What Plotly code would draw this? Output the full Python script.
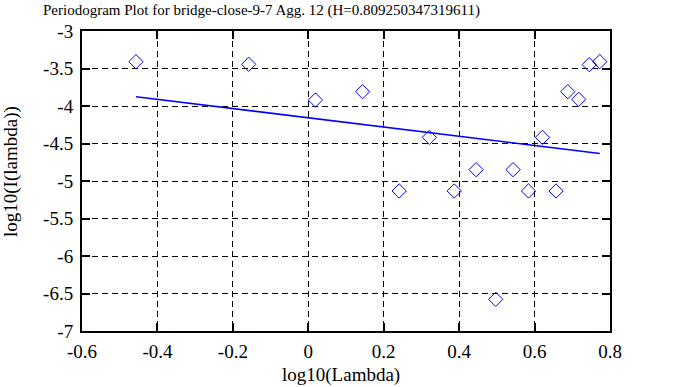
import plotly.graph_objects as go

# Periodogram points (log10 frequency, log10 power)
log_lambda = [-0.457, -0.158, 0.019, 0.144, 0.241, 0.321, 0.387, 0.445, 0.497,
              0.543, 0.584, 0.621, 0.657, 0.688, 0.717, 0.745, 0.773]
log_I = [-3.409, -3.444, -3.920, -3.809, -5.133, -4.418, -5.133, -4.849, -6.578,
         -4.849, -5.133, -4.418, -5.133, -3.809, -3.911, -3.449, -3.409]

# Fitted regression line endpoints
fit_x = [-0.457, 0.773]
fit_y = [-3.876, -4.634]

x_ticks = [-0.6, -0.4, -0.2, 0, 0.2, 0.4, 0.6, 0.8]
x_tick_text = ["-0.6", "-0.4", "-0.2", "0", "0.2", "0.4", "0.6", "0.8"]
y_ticks = [-7, -6.5, -6, -5.5, -5, -4.5, -4, -3.5, -3]
y_tick_text = ["-7", "-6.5", "-6", "-5.5", "-5", "-4.5", "-4", "-3.5", "-3"]

title_text = "Periodogram Plot for bridge-close-9-7 Agg. 12 (H=0.809250347319611)"
x_title = "log10(Lambda)"
y_title = "log10(I(lambda))"

FONT = "Liberation Serif, serif"

fig = go.Figure()
fig.add_trace(go.Scatter(
    x=log_lambda, y=log_I, mode="markers",
    marker=dict(symbol="diamond-open", size=11, color="#0000ff",
                line=dict(width=1, color="#0000ff")),
    showlegend=False, hoverinfo="skip"))
fig.add_trace(go.Scatter(
    x=fit_x, y=fit_y, mode="lines",
    line=dict(color="#0000ff", width=1.6),
    showlegend=False, hoverinfo="skip"))

axis_common = dict(
    automargin=False,
    showline=True, linecolor="black", linewidth=2, mirror="allticks",
    ticks="inside", ticklen=8, tickwidth=2, tickcolor="black",
    showgrid=True, gridcolor="black", gridwidth=1, griddash="6px,4px",
    zeroline=False, tickfont=dict(family=FONT, size=19, color="black"),
)

fig.update_xaxes(range=[-0.6, 0.8], tickvals=x_ticks, ticktext=x_tick_text,
                 ticklabelstandoff=2, **axis_common)
fig.update_yaxes(range=[-7, -3], tickvals=y_ticks, ticktext=y_tick_text,
                 ticklabelstandoff=3, **axis_common)

fig.update_layout(
    template="none",
    width=688, height=387,
    margin=dict(l=82, r=78, t=31, b=56),
    plot_bgcolor="white", paper_bgcolor="white",
    font=dict(family=FONT, color="black"),
    annotations=[
        dict(text=title_text, xref="paper", yref="paper", x=-0.078, y=1.0,
             xanchor="left", yanchor="middle", yshift=21, showarrow=False,
             font=dict(family=FONT, size=15, color="black")),
        dict(text=x_title, xref="paper", yref="paper", x=0.49, y=0,
             xanchor="center", yanchor="middle", yshift=-44, showarrow=False,
             font=dict(family=FONT, size=19, color="black")),
        dict(text=y_title, xref="paper", yref="paper", x=0, y=0.53,
             xanchor="center", yanchor="middle", xshift=-71, textangle=-90,
             showarrow=False, font=dict(family=FONT, size=19, color="black")),
    ],
)

fig.write_html("out.html", config={"displayModeBar": False},
               post_script="document.body.style.margin='0';document.body.style.padding='0';")
